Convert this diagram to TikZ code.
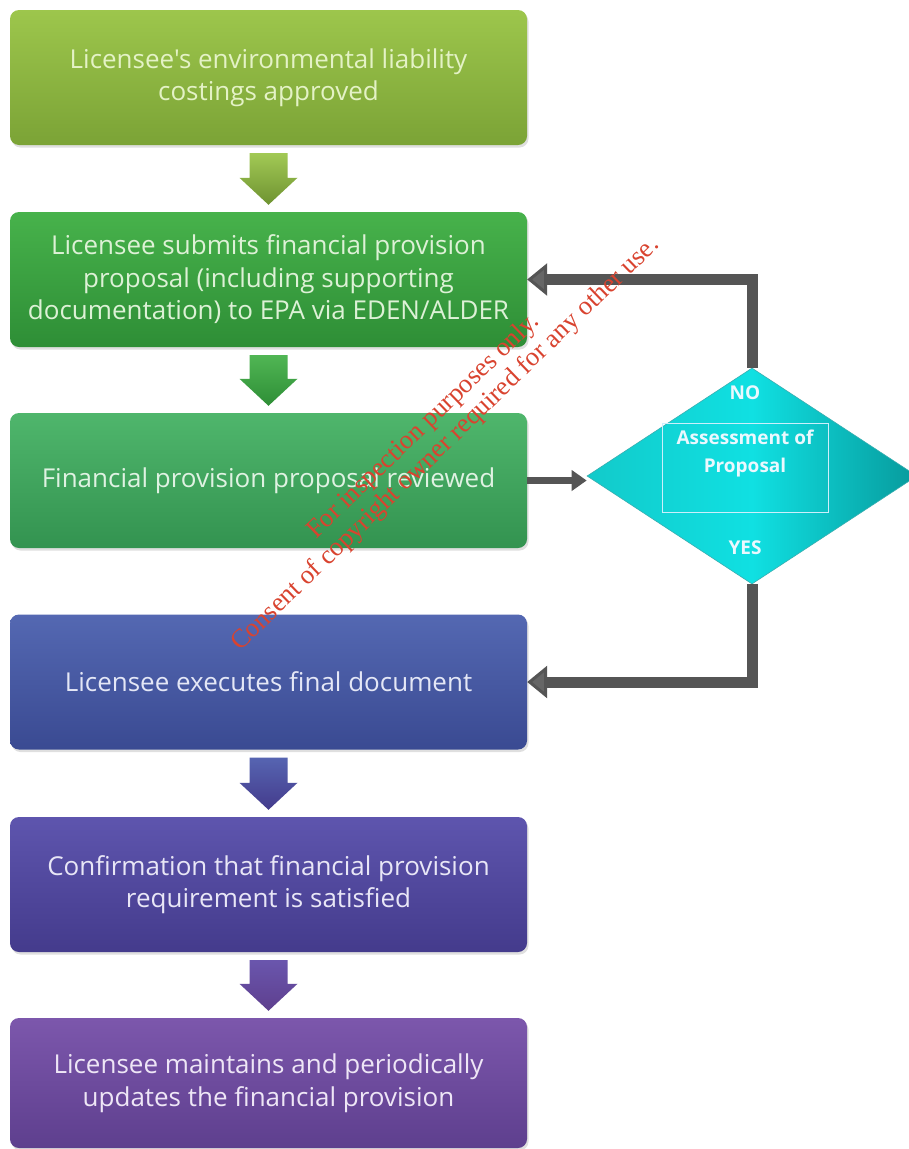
\documentclass[tikz,border=0pt]{standalone}
\usepackage{fontspec}
\setmainfont{Open Sans}[Ligatures=TeXOff]
\newfontfamily\wmfont{Liberation Serif}
\usetikzlibrary{shapes.geometric,arrows.meta,shadows,calc}
\definecolor{bAt}{HTML}{9DC64C}\definecolor{bAb}{HTML}{7BA336}\definecolor{tA}{HTML}{E4F2C6}
\definecolor{bBt}{HTML}{47B24B}\definecolor{bBb}{HTML}{2E8E36}\definecolor{tB}{HTML}{DDF1D6}
\definecolor{bCt}{HTML}{4FB66C}\definecolor{bCb}{HTML}{339350}\definecolor{tC}{HTML}{DFF2E2}
\definecolor{bDt}{HTML}{5468B2}\definecolor{bDb}{HTML}{3A4A92}\definecolor{tD}{HTML}{E4E7F6}
\definecolor{bEt}{HTML}{5E55AE}\definecolor{bEb}{HTML}{443B8C}\definecolor{tE}{HTML}{E8E6F6}
\definecolor{bFt}{HTML}{7C57AC}\definecolor{bFb}{HTML}{5E3F8E}\definecolor{tF}{HTML}{EEE6F6}
\definecolor{connc}{HTML}{555555}
\definecolor{diaL}{HTML}{12CACA}\definecolor{diaM}{HTML}{10E0E2}\definecolor{diaR}{HTML}{079A9C}
\definecolor{wmred}{HTML}{D9432F}
\newcommand\blockarr[4]{%
  \path[top color=#3, bottom color=#4]
    ($(#1.south)+(-19,8)$) -- ($(#1.south)+(19,8)$) --
    ($(#2.north)+(19,-34)$) -- ($(#2.north)+(29,-34)$) --
    ($(#2.north)+(0,-7)$) -- ($(#2.north)+(-29,-34)$) --
    ($(#2.north)+(-19,-34)$) -- cycle;}
\begin{document}
\begin{tikzpicture}[x=1pt,y=-1pt,
  box/.style={rounded corners=9pt, minimum width=517pt, minimum height=135pt,
    inner sep=0pt, align=center, font=\fontsize{26}{32.5}\selectfont,
    drop shadow={opacity=0.25,shadow xshift=1.5pt,shadow yshift=-2.5pt}},
  conn/.style={draw=connc, line width=11pt, line join=miter},
  opentip/.style={-{Triangle[length=20pt,width=32pt,line width=3pt,fill=connc!90!white]}},
  dtext/.style={text=white!92!cyan, font=\bfseries\fontsize{19}{28}\selectfont, align=center, inner sep=0pt},
  wm/.style={text=wmred, font=\wmfont\fontsize{26.5}{28}\selectfont, inner sep=0pt}]
\useasboundingbox (0,0) rectangle (909,1149);
\fill[white] (0,0) rectangle (909,1149);

\node[box, top color=bAt, bottom color=bAb, text=tA] (b1) at (268.5,77.5)
  {Licensee's environmental liability\\costings approved};
\node[box, top color=bBt, bottom color=bBb, text=tB] (b2) at (268.5,279.5)
  {Licensee submits financial provision\\proposal (including supporting\\documentation) to EPA via EDEN/ALDER};
\node[box, top color=bCt, bottom color=bCb, text=tC] (b3) at (268.5,480.5)
  {Financial provision proposal reviewed};
\node[box, top color=bDt, bottom color=bDb, text=tD] (b4) at (268.5,682)
  {Licensee executes final document};
\node[box, top color=bEt, bottom color=bEb, text=tE] (b5) at (268.5,884.5)
  {Confirmation that financial provision\\requirement is satisfied};
\node[box, minimum height=130pt, top color=bFt, bottom color=bFb, text=tF] (b6) at (268.5,1083)
  {Licensee maintains and periodically\\updates the financial provision};

\blockarr{b1}{b2}{bAt!95!white}{bAb!90!black}
\blockarr{b2}{b3}{bBt!95!white}{bBb}
\blockarr{b4}{b5}{bDt!80!bEt}{bEb}
\blockarr{b5}{b6}{bEt!60!bFt}{bFb}

\node[diamond, minimum width=330pt, minimum height=216pt, inner sep=0pt,
  left color=diaL, right color=diaR, middle color=diaM, draw=diaR!80!white, line width=0.6pt] (d) at (752,476) {};
\node[draw=white!80!cyan, line width=1pt, minimum width=166pt, minimum height=89pt, inner sep=0pt] (r) at (745,467.5) {};
\node[dtext] (q) at (745,454) {Assessment of\\Proposal};
\node[dtext] (no) at (745,393) {NO};
\node[dtext] (yes) at (745,548) {YES};

\draw[conn, opentip] (d.north) |- (b2.east);
\draw[conn, opentip] (d.south) |- (b4.east);
\draw[draw=connc, line width=7pt, -{Triangle[length=15pt,width=20pt]}] (b3.east) -- (b3.east -| d.west);

\node[wm, rotate=44, anchor=base] (w1) at (428.5,431) {For inspection purposes only.};
\node[wm, rotate=44, anchor=base] (w2) at (450,449) {Consent of copyright owner required for any other use.};
\end{tikzpicture}
\end{document}
